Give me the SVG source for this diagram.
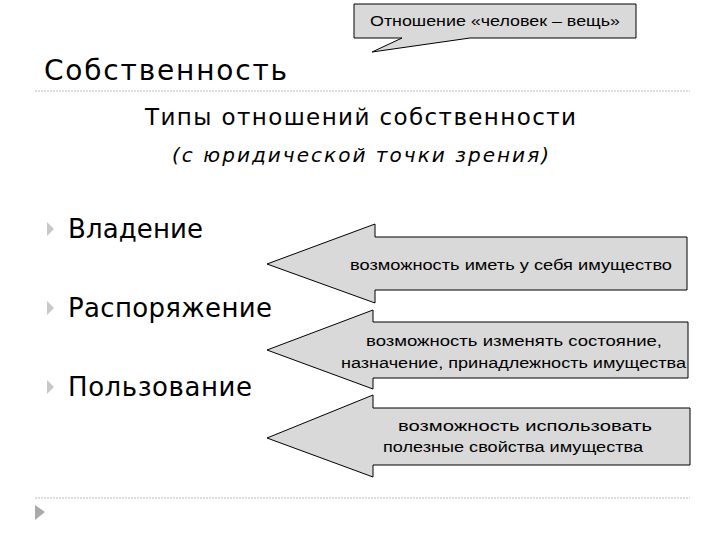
<svg xmlns="http://www.w3.org/2000/svg" width="720" height="540" viewBox="0 0 720 540">
<style>
text{font-family:"Liberation Sans",Arial,sans-serif;fill:#000}
.ar{fill:#d9d9d9;stroke:#000;stroke-width:1}
.sm{font-size:15.5px}
.big{font-family:"DejaVu Sans",sans-serif;font-size:26px}
.bul{fill:#c8c8c8}
.sep{stroke:#bbb;stroke-width:1;stroke-dasharray:2 1}
</style>
<rect width="720" height="540" fill="#fff"/>
<g id="callout">
<path class="ar" d="M354,4 H636 V38 H470 L372,52 L402,38 H354 Z"/>
<text class="sm" x="370" y="26" textLength="250" lengthAdjust="spacingAndGlyphs">Отношение «человек – вещь»</text>
</g>
<g id="title">
<text x="44" y="80" textLength="243" style="font-family:'DejaVu Sans',sans-serif;font-size:28px">Собственность</text>
<line class="sep" x1="35" y1="91" x2="690" y2="91"/>
</g>
<g id="subtitle">
<text x="145" y="125" textLength="431" style="font-family:'DejaVu Sans',sans-serif;font-size:23px">Типы отношений собственности</text>
<text x="172" y="162" textLength="377" style="font-family:'DejaVu Sans',sans-serif;font-size:20px;font-style:italic">(с юридической точки зрения)</text>
</g>
<g id="item1"><path class="bul" d="M47,222 L54,229 L47,236 Z"/><text class="big" x="68" y="238" textLength="135">Владение</text></g>
<g id="item2"><path class="bul" d="M47,301 L54,308 L47,315 Z"/><text class="big" x="68" y="317" textLength="204">Распоряжение</text></g>
<g id="item3"><path class="bul" d="M47,380 L54,387 L47,394 Z"/><text class="big" x="68" y="396" textLength="184">Пользование</text></g>
<g id="connectors">
<g id="arrow1">
<path class="ar" d="M267,264 L375,224 V237 H687 V290 H375 V303 Z"/>
<text class="sm" x="350" y="270" textLength="322" lengthAdjust="spacingAndGlyphs">возможность иметь у себя имущество</text>
</g>
<g id="arrow2">
<path class="ar" d="M267,350 L373,310 V322 H688 V378 H373 V389 Z"/>
<text class="sm" x="366" y="346" textLength="296" lengthAdjust="spacingAndGlyphs">возможность изменять состояние,</text>
<text class="sm" x="341" y="368" textLength="345" lengthAdjust="spacingAndGlyphs">назначение, принадлежность имущества</text>
</g>
<g id="arrow3">
<path class="ar" d="M267,438 L373,395 V408 H690 V465 H373 V477 Z"/>
<text class="sm" x="398" y="431" textLength="254" lengthAdjust="spacingAndGlyphs">возможность использовать</text>
<text class="sm" x="383" y="452" textLength="260" lengthAdjust="spacingAndGlyphs">полезные свойства имущества</text>
</g>
</g>
<g id="footer">
<line class="sep" x1="35" y1="498" x2="690" y2="498"/>
<path d="M35,505 L45,512 L35,520 Z" fill="#aaa"/>
</g>
</svg>
